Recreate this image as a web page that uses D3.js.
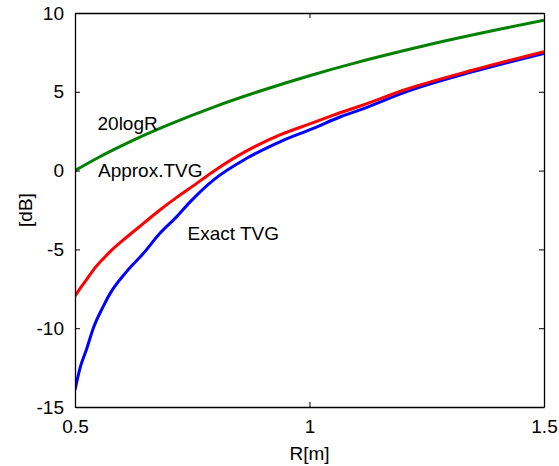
<!DOCTYPE html>
<html>
<head>
<meta charset="utf-8">
<script src="https://cdn.jsdelivr.net/npm/d3@7"></script>
<style>
  html, body { margin: 0; padding: 0; background: #fff; }
  svg { display: block; font-family: "Liberation Sans", Arial, sans-serif; }
</style>
</head>
<body>
<div id="chart"></div>
<script>
// values
const range_m = [0.5, 0.511, 0.525, 0.539, 0.56, 0.575, 0.61, 0.646, 0.681, 0.717, 0.745,
  0.795, 0.866, 0.937, 1.008, 1.065, 1.108, 1.207, 1.349, 1.5];
const approx_tvg = [-7.96, -7.47, -6.9, -6.31, -5.6, -5.14, -4.23, -3.35, -2.5, -1.7, -1.12,
  -0.05, 1.25, 2.26, 3.04, 3.67, 4.1, 5.16, 6.38, 7.55];
const exact_tvg = [-13.92, -12.5, -11.3, -10.0, -8.63, -7.79, -6.41, -5.25, -3.98, -2.92, -2.0,
  -0.6, 0.78, 1.83, 2.68, 3.4, 3.85, 5.01, 6.28, 7.44];
const log_range_m = [0.5, 0.55, 0.6, 0.65, 0.7, 0.8, 0.9, 1.0, 1.1, 1.2, 1.3, 1.4, 1.5];
const log_gain = [0, 0.83, 1.58, 2.28, 2.92, 4.08, 5.1, 6.02, 6.85, 7.6, 8.3, 8.94, 9.54];

const x_ticks = [0.5, 1, 1.5];
const y_ticks = [-15, -10, -5, 0, 5, 10];

const series = [
  { name: "20logR", xs: log_range_m, ys: log_gain, color: "#008000" },
  { name: "Exact TVG", xs: range_m, ys: exact_tvg, color: "#0000ff" },
  { name: "Approx.TVG", xs: range_m, ys: approx_tvg, color: "#ff0000" },
];
const labels = [
  { text: "20logR", at: [0.548, 2.6] },
  { text: "Approx.TVG", at: [0.549, -0.38] },
  { text: "Exact TVG", at: [0.74, -4.4] },
];

const width = 559, height = 466;
const margin = { top: 13, right: 15, bottom: 59, left: 75 };
const font_size = 19;
const plain_number = (value) => String(value);  // hyphen minus, as in the original

const x = d3.scaleLinear().domain([0.5, 1.5]).range([margin.left, width - margin.right]);
const y = d3.scaleLinear().domain([-15, 10]).range([height - margin.bottom, margin.top]);

const svg = d3.select("#chart").append("svg")
  .attr("width", width)
  .attr("height", height);

svg.append("clipPath").attr("id", "plot_clip")
  .append("rect")
  .attr("x", margin.left).attr("y", margin.top)
  .attr("width", width - margin.left - margin.right)
  .attr("height", height - margin.top - margin.bottom);

const line = d3.line().curve(d3.curveMonotoneX);
const plot = svg.append("g").attr("clip-path", "url(#plot_clip)");
series.forEach((s) => {
  plot.append("path")
    .attr("d", line(s.xs.map((value, index) => [x(value), y(s.ys[index])])))
    .attr("fill", "none")
    .attr("stroke", s.color)
    .attr("stroke-width", 3)
    .attr("stroke-linejoin", "round");
});

// inward ticks on all four sides, MATLAB style
const tick = 5;
const axes = [
  { axis: d3.axisBottom(x).tickValues(x_ticks).tickSizeInner(-tick).tickSizeOuter(0).tickPadding(13).tickFormat(plain_number),
    at: `translate(0,${height - margin.bottom})`, labels: true },
  { axis: d3.axisTop(x).tickValues(x_ticks).tickSizeInner(-tick).tickSizeOuter(0),
    at: `translate(0,${margin.top})`, labels: false },
  { axis: d3.axisLeft(y).tickValues(y_ticks).tickSizeInner(-tick).tickSizeOuter(0).tickPadding(11).tickFormat(plain_number),
    at: `translate(${margin.left},0)`, labels: true },
  { axis: d3.axisRight(y).tickValues(y_ticks).tickSizeInner(-tick).tickSizeOuter(0),
    at: `translate(${width - margin.right},0)`, labels: false },
];
axes.forEach((a) => {
  const g = svg.append("g").attr("transform", a.at).call(a.axis);
  g.select(".domain").attr("stroke", "#000").attr("stroke-width", 1.3);
  g.selectAll(".tick line").attr("stroke", "#000").attr("stroke-width", 1);
  g.selectAll(".tick text")
    .attr("fill", "#000")
    .attr("font-size", font_size)
    .attr("font-family", "Liberation Sans, Arial, sans-serif");
  if (!a.labels) g.selectAll(".tick text").remove();
});

svg.append("text")
  .attr("x", (margin.left + width - margin.right) / 2)
  .attr("y", 460)
  .attr("text-anchor", "middle")
  .attr("font-size", font_size)
  .text("R[m]");
svg.append("text")
  .attr("transform", "rotate(-90)")
  .attr("x", -(margin.top + height - margin.bottom) / 2)
  .attr("y", 32)
  .attr("text-anchor", "middle")
  .attr("font-size", font_size)
  .text("[dB]");

svg.append("g")
  .selectAll("text")
  .data(labels)
  .join("text")
  .attr("x", (d) => x(d.at[0]))
  .attr("y", (d) => y(d.at[1]))
  .attr("font-size", font_size)
  .text((d) => d.text);
</script>
</body>
</html>
